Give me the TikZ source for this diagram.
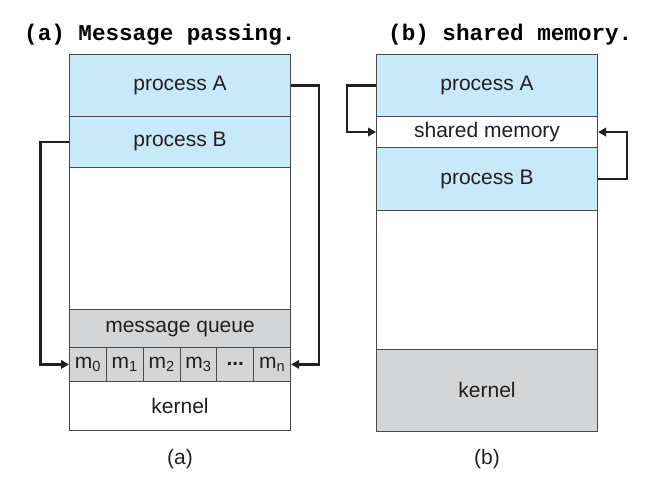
\documentclass[tikz,border=0pt]{standalone}
\usepackage{fontspec}
\setmainfont{Liberation Sans}
\setmonofont{Liberation Mono}
\usetikzlibrary{arrows.meta}
\definecolor{pblue}{HTML}{C7E9F8}
\definecolor{qgray}{HTML}{D4D5D6}
\definecolor{ink}{HTML}{231F20}
\definecolor{boxline}{HTML}{4A4A4A}
\begin{document}
\begin{tikzpicture}[x=1pt,y=-1pt,
  box/.style={draw=boxline, line width=1.1pt, minimum width=221pt, inner sep=0pt,
    anchor=north west, font=\fontsize{21}{24}\selectfont, text=ink},
  cell/.style={box, fill=qgray, minimum width=36.833pt, minimum height=34.3pt},
  link/.style={draw=ink, line width=2.4pt, -{Triangle[length=8pt,width=8.5pt]}},
  titletext/.style={anchor=base west, inner sep=0pt, font=\fontsize{22.6}{26}\selectfont\ttfamily\bfseries, text=black},
  captext/.style={font=\fontsize{21}{24}\selectfont, text=ink, inner sep=0pt}]
\useasboundingbox (0,0) rectangle (646,483);
% titles
\node[titletext] (ta) at (24,40) {(a) Message passing.};
\node[titletext] (tb) at (388,40) {(b) shared memory.};
% left column
\node[box, fill=pblue, minimum height=61.7pt] (apA) at (69,54) {process A};
\node[box, fill=pblue, minimum height=51pt] (apB) at (69,115.7) {process B};
\node[box, fill=white, minimum height=142.6pt] (afree) at (69,166.7) {};
\node[box, fill=qgray, minimum height=37.4pt] (amq) at (69,309.3) {message queue};
\node[cell] (m0) at (69,346.7) {m\textsubscript{0}};
\node[cell] (m1) at (105.833,346.7) {m\textsubscript{1}};
\node[cell] (m2) at (142.667,346.7) {m\textsubscript{2}};
\node[cell] (m3) at (179.5,346.7) {m\textsubscript{3}};
\node[cell] (mdots) at (216.333,346.7) {\textbf{...}};
\node[cell] (mn) at (253.167,346.7) {m\textsubscript{n}};
\node[box, fill=white, minimum height=49pt] (akern) at (69,381) {kernel};
% right column
\node[box, fill=pblue, minimum height=61.7pt] (bpA) at (376,54) {process A};
\node[box, fill=white, minimum height=31.6pt] (bshm) at (376,115.7) {shared memory};
\node[box, fill=pblue, minimum height=62.7pt] (bpB) at (376,147.3) {process B};
\node[box, fill=white, minimum height=139pt] (bfree) at (376,210) {};
\node[box, fill=qgray, minimum height=81.5pt] (bkern) at (376,349) {kernel};
% captions
\node[captext] (capa) at (180,459) {(a)};
\node[captext] (capb) at (487,459) {(b)};
% connectors
\draw[link] (apB.west) -- ++(-28.5,0) |- (m0.west);
\draw[link] (apA.east) -- ++(28,0) |- (mn.east);
\draw[link] (bpA.west) -- ++(-29,0) |- (bshm.west);
\draw[link] (bpB.east) -- ++(29,0) |- (bshm.east);
\end{tikzpicture}
\end{document}
